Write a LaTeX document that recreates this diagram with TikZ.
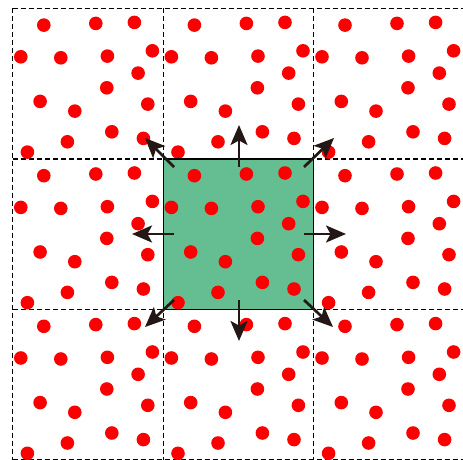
\documentclass[tikz,border=0pt]{standalone}
\usepackage{tikz}
\usetikzlibrary{arrows.meta}

\definecolor{cellgreen}{RGB}{100,190,145}
\definecolor{dotred}{RGB}{250,0,0}
\definecolor{arrowblack}{RGB}{35,24,21}

\begin{document}
\begin{tikzpicture}[x=1pt, y=-1pt,
	gridline/.style={dashed, dash pattern=on 5pt off 3pt, line width=1.2pt, black},
	dot/.style={fill=dotred},
	move/.style={draw=arrowblack, line width=2.7pt, -{Stealth[length=20pt, width=17pt, inset=4.5pt]}}]
				% Page size
				\path[use as bounding box, clip] (0,0) rectangle (463,460);
				
				% Centre cell
				\fill[cellgreen] (163.2,159) rectangle (313.8,309.6);
				
				% Periodic cells
				\foreach \x in {12.5,163.2,313.8}
				\draw[gridline] (\x,8.5) -- (\x,470);
				\draw[gridline] (464.4,8.5) -- (464.4,470);
				\foreach \y in {8.5,159,309.6}
				\draw[gridline] (12.5,\y) -- (470,\y);
				\draw[gridline] (12.5,460) -- (470,460);
				
				% Particles, same pattern in every cell
				\foreach \i in {0,1,2}
				\foreach \j in {0,1,2}
				\foreach \px/\py in {31.2/16.7, 83.2/15, 121.8/14, 8.2/48.4,
					48.2/49.4, 94.8/47.7, 139.8/42.4, 125.5/64.7, 94.2/79.4,
					27.5/93, 62.2/102.7, 135.2/95.7, 99.2/123.4, 54.8/133.4,
					130.8/130, 14.8/143.7}
				\fill[dot] (12.6+150.6*\i+\px, 8.4+150.6*\j+\py) circle (6.8pt);
				
				% Centre cell border
				\draw[line width=1.2pt, black] (163.2,159) rectangle (313.8,309.6);
				
				% Moves out of the cell
				\foreach \name/\sx/\sy/\ex/\ey in {up/239/167/239/125, down/239/300/239/341,
					left/174/234/132/234, right/304/234/346/234,
					upleft/174/167/145/138, upright/304/167/334/138,
					downleft/174/300/145/327, downright/304/300/333/327}
				{
					\coordinate (\name-from) at (\sx,\sy);
					\coordinate (\name-to) at (\ex,\ey);
					\draw[move] (\name-from) -- (\name-to);
				}
			\end{tikzpicture}
\end{document}
